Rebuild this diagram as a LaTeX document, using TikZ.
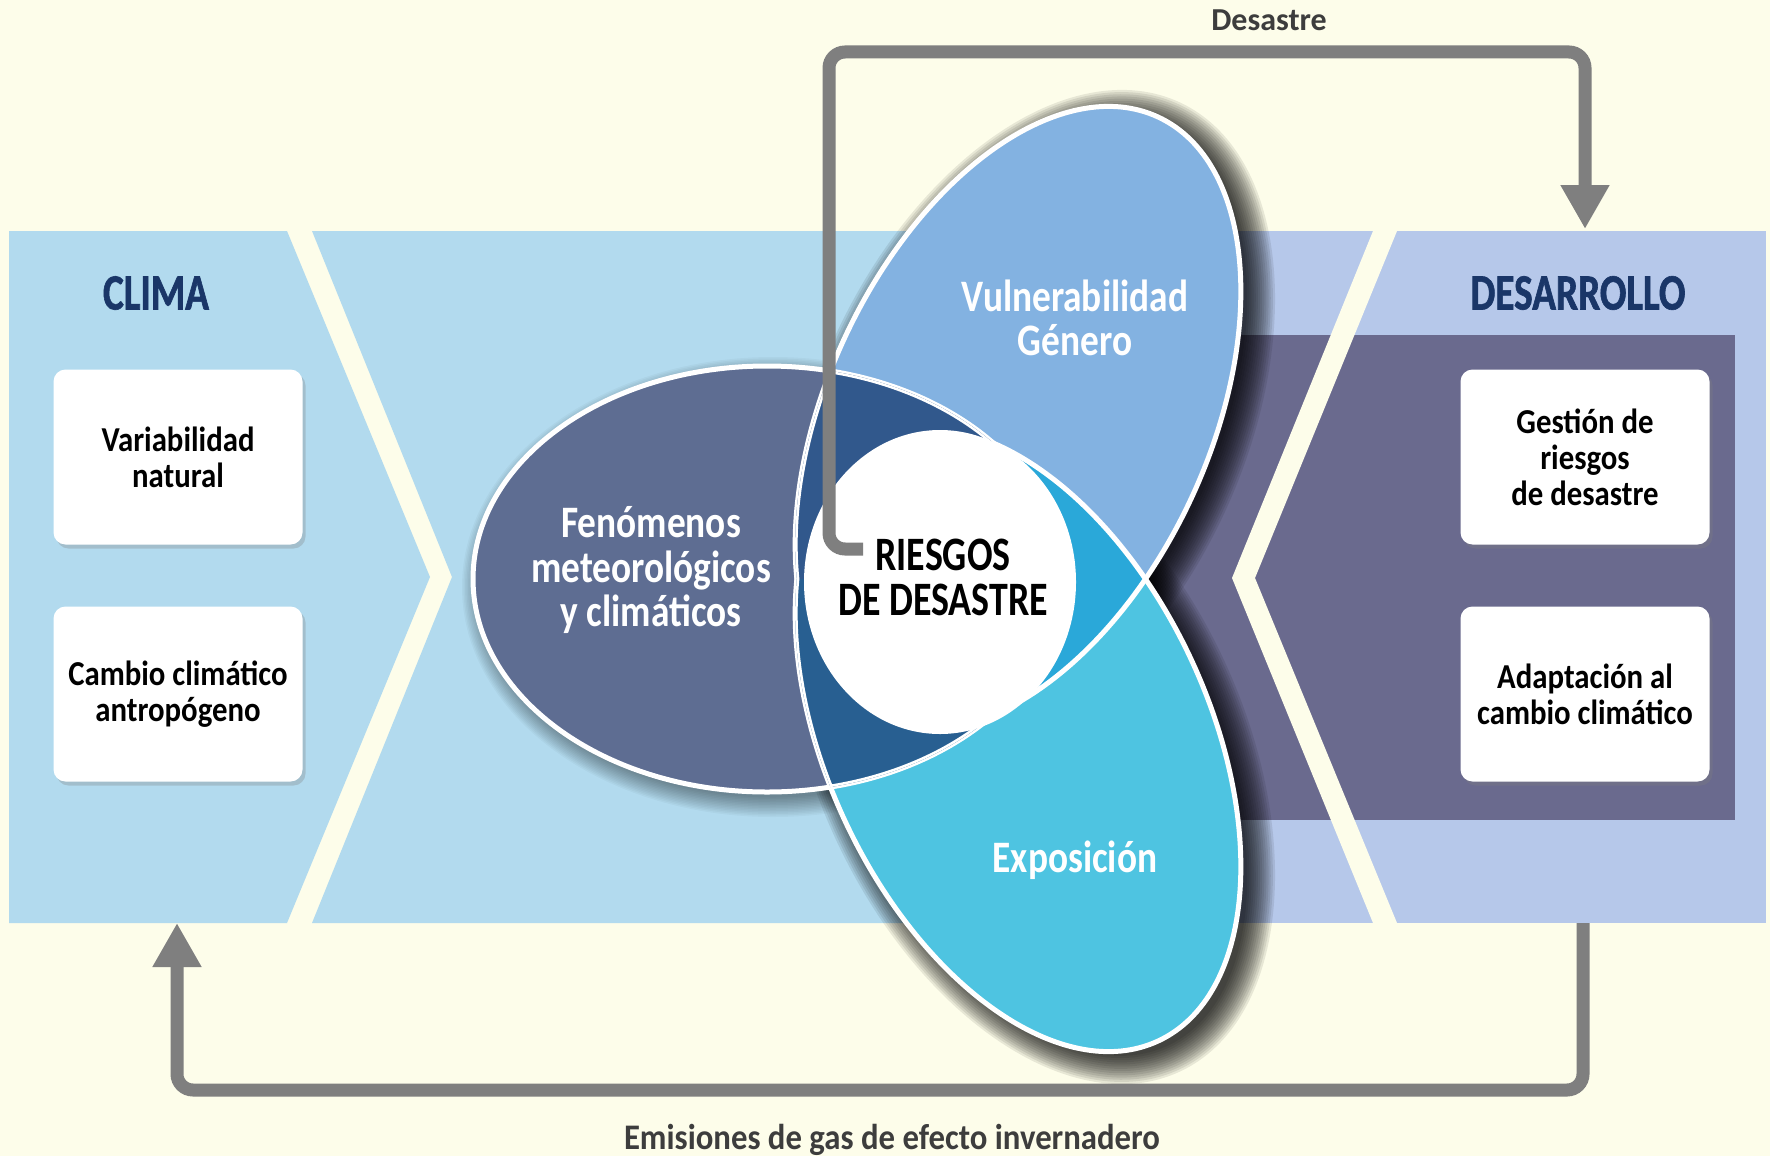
\documentclass[tikz,border=0pt]{standalone}
\usepackage{fontspec}
\setmainfont{Carlito}
\newfontfamily\fBox{Carlito}[FakeStretch=0.88]
\newfontfamily\fTitle{Carlito}[FakeStretch=0.77,FakeBold=1.2]
\newfontfamily\fEll{Carlito}[FakeStretch=0.83]
\newfontfamily\fRisk{Carlito}[FakeStretch=0.79]
\newfontfamily\fEmi{Carlito}[FakeStretch=0.91]
\usetikzlibrary{arrows.meta,shadows,calc}
\definecolor{cream}{HTML}{FDFDEA}
\definecolor{lightblue}{HTML}{B2DAEE}
\definecolor{lavender}{HTML}{B6C8EA}
\definecolor{darkrect}{HTML}{6A6A8E}
\definecolor{colF}{HTML}{5E6D92}
\definecolor{colV}{HTML}{83B2E1}
\definecolor{colE}{HTML}{4EC4E1}
\definecolor{lensFV}{HTML}{31588C}
\definecolor{lensFE}{HTML}{285F91}
\definecolor{lensVE}{HTML}{2AA8D9}
\definecolor{navy}{HTML}{1A3668}
\definecolor{arrowgray}{HTML}{7F7F7F}
\definecolor{labelgray}{HTML}{3D3D3D}
\tikzset{
  whitebox/.style={fill=white, rounded corners=6pt, minimum width=124.5pt, minimum height=87.5pt,
    inner sep=0pt, align=center, text=black,
    drop shadow={opacity=0.3, shadow xshift=1.5pt, shadow yshift=-2pt},
    font={\fBox\bfseries\fontsize{17.5pt}{18pt}\selectfont}},
  titletext/.style={text=navy, inner sep=0pt, font={\fTitle\bfseries\fontsize{25.5pt}{26pt}\selectfont}},
  elltext/.style={text=white, inner sep=0pt, align=center, font={\fEll\bfseries\fontsize{22.5pt}{22.3pt}\selectfont}},
  risktext/.style={text=black, inner sep=0pt, align=center, font={\fRisk\bfseries\fontsize{24pt}{22.5pt}\selectfont}},
  flowlabel/.style={text=labelgray, inner sep=0pt, anchor=base},
  grayarrow/.style={draw=arrowgray, line width=6.5pt, rounded corners=8pt, -{Triangle[width=23pt,length=22pt]}},
  outline/.style={draw=white, line width=2.5pt},
  pathF/.style={insert path={(Fc) ellipse [x radius=294, y radius=213]}},
  pathV/.style={insert path={(Vc) ellipse [x radius=332, y radius=191, rotate=65]}},
  pathE/.style={insert path={(Ec) ellipse [x radius=332, y radius=191, rotate=-65]}},
}
\begin{document}
\begin{tikzpicture}[x=0.5pt,y=-0.5pt]
\useasboundingbox (0,0) rectangle (1770,1156);
\fill[cream] (0,0) rectangle (1770,1156);

% bands
\fill[lightblue] (9,231) -- (287,231) -- (430,577) -- (287,923) -- (9,923) -- cycle;
\fill[lightblue] (312,231) -- (1190,231) -- (1190,923) -- (312,923) -- (452,577) -- cycle;
\fill[lavender] (1185,231) rectangle (1766,923);
\fill[darkrect] (1120,335) rectangle (1735,820);
\fill[cream] (1373,231) -- (1397,231) -- (1255,578) -- (1397,923) -- (1373,923) -- (1232,578) -- cycle;

% boxes and titles
\node[whitebox] (var) at (178,457) {Variabilidad\\natural};
\node[whitebox] (cam) at (178,694) {Cambio climático\\antropógeno};
\node[whitebox] (ges) at (1585,457) {Gestión de\\riesgos\\de desastre};
\node[whitebox] (ada) at (1585,694) {Adaptación al\\cambio climático};
\node[titletext] (clima) at (156,293) {CLIMA};
\node[titletext] (desarrollo) at (1578,293) {DESARROLLO};

% ellipse centres
\coordinate (Fc) at (767,579);
\coordinate (Vc) at (1018,418);
\coordinate (Ec) at (1018,740);
\coordinate (Cc) at (940,582);

% shadows
\foreach \k in {1,...,14}{
  \fill[black,opacity=0.085] ($(Vc)+(12,6)$) ellipse [x radius=324+2.2*\k, y radius=183+2.2*\k, rotate=65];
  \fill[black,opacity=0.085] ($(Ec)+(12,10)$) ellipse [x radius=324+2.2*\k, y radius=183+2.2*\k, rotate=-65];
  \fill[black,opacity=0.03] ($(Fc)+(6,8)$) ellipse [x radius=290+1.5*\k, y radius=209+1.5*\k];
}

% petals
\fill[colF, pathF];
\fill[colV, pathV];
\fill[colE, pathE];
\begin{scope}
  \clip[pathV];
  \fill[lensVE, pathE];
\end{scope}
\draw[outline, pathF];
\draw[outline, pathV];
\draw[outline, pathE];
% lenses with the weather ellipse (upper one above the axis, lower one below)
\begin{scope}
  \clip (0,0) rectangle (1770,579);
  \clip[pathF];
  \clip[pathV];
  \fill[lensFV, pathV];
  \draw[outline, pathF];
  \draw[outline, pathV];
\end{scope}
\begin{scope}
  \clip (0,579) rectangle (1770,1156);
  \clip[pathF];
  \clip[pathE];
  \fill[lensFE, pathE];
  \draw[outline, pathF];
  \draw[outline, pathE];
\end{scope}
\fill[white] (Cc) ellipse [x radius=136, y radius=152];

% arrows
\coordinate (astart) at (863,549);
\coordinate (aend) at (1585,229);
\coordinate (bstart) at (1583,923);
\coordinate (bend) at (177,923);
\draw[grayarrow] (astart) -- (829,549) -- (829,52) -- (1585,52) -- (aend);
\draw[grayarrow] (bstart) -- (1583,1090) -- (177,1090) -- (bend);

% texts
\node[elltext] (fen) at (651,570) {Fenómenos\\meteorológicos\\y climáticos};
\node[elltext] (vul) at (1075,318) {Vulnerabilidad\\Género};
\node[elltext] (expo) at (1075,860) {Exposición};
\node[risktext] (riesgo) at (943,577) {RIESGOS\\DE DESASTRE};
\node[flowlabel, font={\bfseries\fontsize{16pt}{18pt}\selectfont}] (desastre) at (1269,31) {Desastre};
\node[flowlabel, font={\fEmi\bfseries\fontsize{18pt}{20pt}\selectfont}] (emisiones) at (892,1149) {Emisiones de gas de efecto invernadero};
\end{tikzpicture}
\end{document}
